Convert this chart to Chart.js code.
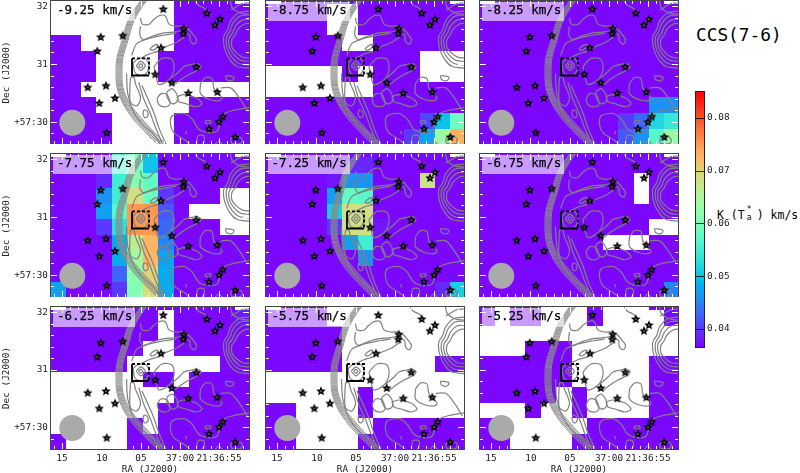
<!DOCTYPE html>
<html>
<head>
<meta charset="utf-8">
<script src="https://cdn.jsdelivr.net/npm/chart.js@4"></script>
<style>
  body { margin: 0; background: #fff; width: 800px; height: 473px; overflow: hidden; position: relative; font-family: "DejaVu Sans Mono", monospace; }
  canvas { position: absolute; }
  .vel { position: absolute; width: 82px; height: 19px; background: rgba(255,255,255,0.6); font-size: 12.5px; line-height: 16px; color: #000; white-space: pre; text-indent: 4px; -webkit-text-stroke: 0.25px #000; }
  #title { position: absolute; left: 696px; top: 24px; font-size: 17.8px; color: #000; }
  #unit { position: absolute; left: 717px; top: 208px; font-size: 11.5px; line-height: 14px; color: #000; white-space: pre; }
  #unit .st { display: inline-block; position: relative; width: 12px; height: 10px; }
  #unit .st i { position: absolute; left: 2px; font-style: normal; font-size: 8px; line-height: 8px; }
</style>
</head>
<body>
<div id="title">CCS(7-6)</div>
<div id="unit">K (T<span class="st"><i style="top:-3px">*</i><i style="top:5px">a</i></span>) km/s</div>
<script>
const V = 0.037, _ = null;

const velocityLabels = ["-9.25 km/s", "-8.75 km/s", "-8.25 km/s", "-7.75 km/s", "-7.25 km/s", "-6.75 km/s", "-6.25 km/s", "-5.75 km/s", "-5.25 km/s"];
const raTickPos = [11, 51, 90, 129, 168];
const raTickLabels = ["15", "10", "05", "37:00", "21:36:55"];
const decTickPos = [5.7, 62.7, 120.7];
const decTickLabels = ["32", "31", "+57:30"];
const barTicks = [0.04, 0.05, 0.06, 0.07, 0.08];

// integrated intensity per map cell, rows from north to south
const cellsM925 = [
  [_,_,_,_,_,_,_,_,V,V,V,V,_],
  [_,_,_,_,_,_,_,_,V,V,V,V,V],
  [_,_,_,_,_,_,_,_,V,V,V,V,V],
  [V,V,_,_,_,_,_,_,V,V,V,V,V],
  [V,V,V,_,_,_,_,V,V,V,V,V,V],
  [V,V,V,_,_,_,_,V,V,V,V,V,V],
  [V,V,_,_,_,_,_,_,_,_,_,_,_],
  [V,V,V,_,_,_,_,_,_,V,V,V,V],
  [V,V,V,V,_,_,_,_,V,V,V,V,V],
  [V,V,V,V,_,_,_,_,V,V,V,V,V],
];
const cellsM875 = [
  [_,V,V,V,V,V,V,V,V,V,V,V,_],
  [V,V,V,V,_,_,V,V,V,V,V,V,V],
  [V,V,V,V,_,_,V,V,V,V,V,V,V],
  [V,V,V,V,V,_,_,V,V,V,V,V,V],
  [V,V,V,V,V,V,V,V,V,V,_,_,_],
  [_,_,_,_,_,V,_,V,V,V,_,_,_],
  [_,_,_,_,_,_,_,V,V,V,V,V,V],
  [V,V,V,V,V,V,V,V,V,V,V,V,V],
  [V,V,V,V,V,V,V,V,V,V,0.041,0.05,0.059],
  [V,V,V,V,V,V,V,V,V,0.04,0.047,0.0635,0.073],
];
const cellsM825 = [
  [_,V,V,V,V,V,V,V,V,V,V,V,_],
  [V,V,V,V,V,V,V,V,V,V,V,V,V],
  [V,V,V,V,V,V,V,V,V,V,V,V,V],
  [V,V,V,V,V,V,V,V,V,V,V,V,V],
  [V,V,V,V,V,V,V,V,V,V,V,V,V],
  [V,V,V,V,V,V,V,V,V,V,V,V,V],
  [V,V,V,V,V,V,V,V,V,V,V,V,V],
  [V,V,V,V,V,V,V,V,V,V,V,0.046,0.046],
  [V,V,V,V,V,V,V,V,V,0.04,0.043,0.052,0.054],
  [V,V,V,V,V,V,V,V,V,0.042,0.046,0.057,0.063],
];
const cellsM775 = [
  [_,V,V,V,0.055,0.06,0.05,V,V,V,V,V,_],
  [V,V,V,V,0.055,0.06,0.05,V,V,V,V,V,V],
  [V,V,V,0.039,0.055,0.061,0.058,V,V,V,V,V,V],
  [V,V,V,0.046,0.055,0.0685,0.059,0.04,V,V,V,_,_],
  [V,V,V,0.047,0.057,0.075,0.075,0.042,V,_,_,_,_],
  [V,V,V,0.04,0.053,0.075,0.075,0.043,V,V,V,_,_],
  [V,V,V,V,0.048,0.0668,0.0728,0.045,V,V,V,V,V],
  [V,V,V,V,0.048,0.064,0.0725,0.047,V,V,V,V,V],
  [V,V,V,V,0.043,0.062,0.0699,0.048,V,V,V,V,V],
  [0.047,V,V,V,0.04,0.061,0.0692,0.048,V,V,V,V,V],
];
const cellsM725 = [
  [_,V,V,V,V,V,V,V,V,V,V,V,_],
  [V,V,V,V,V,0.039,0.039,V,V,V,V,V,V],
  [V,V,V,V,0.038,0.046,0.046,V,V,V,0.068,V,V],
  [V,V,V,V,0.047,0.058,0.057,V,V,V,V,V,V],
  [V,V,V,V,0.051,0.0685,0.0685,V,V,V,V,V,V],
  [V,V,V,V,0.04,0.0685,0.0685,0.038,V,V,V,V,V],
  [V,V,V,V,V,0.047,0.055,V,V,V,V,V,V],
  [V,V,V,V,V,V,0.046,V,V,V,V,V,V],
  [V,V,V,V,V,V,V,V,V,V,V,V,V],
  [V,V,V,V,V,V,V,V,V,V,V,0.039,0.051],
];
const cellsM675 = [
  [_,V,V,V,V,V,V,V,V,V,V,V,_],
  [V,V,V,V,V,V,V,V,V,V,V,V,V],
  [V,V,V,V,V,V,V,V,V,V,_,V,V],
  [V,V,V,V,V,V,V,V,V,V,_,V,V],
  [V,V,V,V,V,V,V,V,V,V,V,V,V],
  [V,V,V,V,V,V,V,V,V,V,V,_,_],
  [V,V,V,V,V,V,V,V,_,_,_,V,V],
  [V,V,V,V,V,V,V,V,V,V,V,V,V],
  [V,V,V,V,V,V,V,V,V,V,V,V,V],
  [V,V,V,V,V,V,V,V,V,V,V,V,0.045],
];
const cellsM625 = [
  [_,V,V,V,V,V,V,V,V,V,V,V,_],
  [V,V,V,V,V,V,V,_,V,V,V,V,0.038],
  [V,V,V,V,V,V,V,_,V,V,V,V,V],
  [V,V,V,V,V,V,_,_,V,V,V,V,V],
  [V,V,V,V,V,_,_,_,_,_,_,V,V],
  [_,_,_,_,_,_,V,V,_,V,V,V,V],
  [_,_,_,_,_,_,_,_,V,V,V,V,V],
  [_,_,_,_,_,_,_,V,V,V,V,V,V],
  [_,_,_,_,_,V,_,V,V,V,V,V,V],
  [V,_,_,_,_,V,V,V,V,V,V,V,V],
];
const cellsM575 = [
  [_,V,V,V,_,_,_,_,_,_,_,_,_],
  [V,V,V,V,_,_,_,_,_,_,_,_,_],
  [V,V,V,V,V,_,_,_,_,_,_,_,_],
  [V,V,V,V,V,_,_,_,_,_,_,_,_],
  [V,V,V,V,V,_,_,_,_,_,_,V,V],
  [_,_,_,_,_,_,_,_,_,_,_,_,_],
  [_,_,_,_,_,_,V,_,_,_,_,_,_],
  [V,V,_,_,_,_,V,_,_,_,_,_,_],
  [V,V,_,_,_,_,_,V,V,V,V,V,V],
  [V,V,_,_,_,_,V,V,V,V,V,V,V],
];
const cellsM525 = [
  [V,_,V,V,_,_,_,V,_,_,_,V,V],
  [V,_,V,V,_,_,_,V,_,_,_,_,V],
  [_,_,_,_,_,_,_,_,_,_,_,_,_],
  [_,_,_,V,V,V,_,_,_,_,_,_,_],
  [V,V,V,V,V,V,_,_,_,_,_,V,V],
  [V,V,V,V,V,V,_,_,_,_,_,V,V],
  [V,V,V,V,V,_,V,_,_,_,_,V,V],
  [_,_,_,V,_,_,V,_,_,_,_,V,V],
  [V,V,_,_,_,_,_,V,V,V,V,V,V],
  [V,V,_,_,_,_,V,V,V,V,V,V,V],
];
const panelCells = [cellsM925, cellsM875, cellsM825, cellsM775, cellsM725, cellsM675, cellsM625, cellsM575, cellsM525];

// map offsets (about 1 arcsec per unit) from the panel's north-east corner
const starPoints = [
  [112.3,8],[155.7,12],[169,18],[164,23.7],[132.7,27.3],[132.3,32.3],[49.7,35.7],[71.7,34.3],
  [110,46.3],[46.3,49.7],[145.3,65.3],[104.3,72.7],[120.7,81],[36.7,85.7],[55,84],[137.3,91.3],
  [166.3,90.3],[64,96.3],[48.3,101.3],[171.7,114.7],[168,120],[158,126.7],[55.7,130.7],[184.3,135],
];
const beamCentre = [[21.3,121]];
const boxSolid = [[81,57],[81,74],[98,74]];
const boxDashed = [[81,57],[98,57],[98,74]];

const frontContours = [
  [[91,-2],[83,9],[76,22],[71,39],[66,56],[65,69],[66,86],[72,102],[82,117],[95,131],[108,144]],
  [[92,-2],[84,9],[77,22],[72,39],[67,56],[66,69],[67,86],[73,102],[83.5,117],[96.5,131],[109.5,144]],
  [[93,-2],[85,9],[78,22],[73,39],[68,56],[67,69],[68,86],[74,102],[85,117],[98,131],[111,144]],
  [[94,-2],[86,9],[79,22],[74,39],[69,56],[68,69],[69,86],[75.2,102],[86.5,117],[99.5,131],[112.5,144]],
  [[95,-2],[87,9],[80,22],[75,39],[70,56],[69,69],[70,86],[76.4,102],[88,117],[101,131],[114,144]],
  [[96,-2],[88,9],[81,22],[76,39],[71,56],[70,69],[71,86],[77.6,102],[89.5,117],[102.5,131],[115.5,144]],
  [[97,-2],[89,9],[82,22],[77,39],[72,56],[71,69],[72,86],[78.8,102],[91,117],[104,131],[117,144]],
];
const ridgeContours = [
  [[89.5,16.7],[91,22.7],[97.8,23.3],[102.8,18.3],[108.8,14.3],[114.5,15],[117.8,22.7],[124.5,25],[132.8,25],[137.8,28.3],[142.2,33.3],[145.5,38.3],[143.5,42.7],[139.5,40],[138.5,33.3],[134.5,31.7]],
  [[89.5,25],[88.8,33.3],[92.2,38.3],[101.2,35],[112.8,31.7],[124.5,30.7],[131.2,29.3]],
  [[134.5,35],[126.2,40.7],[116.2,45],[106.8,50],[97.8,52.7],[90.2,56.7]],
  [[98.8,47.7],[102.8,44.3],[106.8,43.3],[105.5,46.7],[101.2,49],[98.8,47.7]],
  [[80.7,54],[85.7,42.3],[97.3,37.3],[112,34],[125,32]],
  [[144.5,0],[147,4],[153,7],[159,12]],
  [[179.5,0],[181.5,7],[189.5,12],[198,13]],
  [[180,9],[190,3],[198,2]],
];
const eastContours = [
  [[199,10],[187.8,11.7],[179.5,20],[176.8,28.3],[172.8,35],[173.5,46.7],[178.8,58.3],[186.2,65],[199,66.7]],
  [[199,14],[189,15],[182,22],[179,30],[175.5,36],[176,46],[181,56],[188,62],[199,63.5]],
  [[199,18],[191,19],[184.5,25],[181.5,32],[178,37],[178.5,46],[183.5,54],[190,59],[199,60]],
  [[199,22],[193,23],[187,28],[184,34],[181,38],[181,46],[186,52],[192,56],[199,56.5]],
  [[169.7,86.3],[179.7,86.3],[188,95.7],[196.3,109]],
];
const blobContours = [
  [[103,65],[111,57],[121,58],[123,68],[118,78],[108,83],[105,75],[103,65]],
  [[120,77],[128,70],[133,65],[141,63],[146,62],[150,65],[146,69],[138,73],[130,78],[123,83],[120,77]],
  [[116,90],[121,87],[126,93],[126,100],[121,102],[116,95],[116,90]],
  [[106,97],[110,92],[116,93],[119,102],[115,105],[108,103],[106,97]],
  [[126,95],[133,93],[145,96],[151,102],[145,105],[135,102],[128,100],[126,95]],
  [[149.5,82],[154.5,76],[161,77],[163,87],[171,96],[168,99],[158,97.5],[149.5,92],[149.5,82]],
  [[174.5,74],[183,75.7],[181,79],[175.5,78],[174.5,74]],
  [[93,108],[96,109],[97,114],[94,116],[92,112],[93,108]],
];
const southContours = [
  [[141.2,144],[132.8,137.3],[122.8,130.7],[119.5,122.3],[121.2,114],[132.8,111.7],[141.2,117.3],[147.8,127.3],[157.8,130.7],[166.2,129],[169.5,119],[172.8,112.3],[181.2,109],[199,105.7]],
  [[154.5,119],[159.5,119],[159.5,121.3],[154.5,121.3],[154.5,119]],
  [[135.2,129],[135.2,132.3]],
  [[145.5,144],[146.8,134],[152.8,134],[152.8,140.7],[147,144]],
  [[162.8,144],[167.8,139],[172.8,144]],
  [[179.5,137.3],[184.5,133],[191.2,137.3],[189.5,141.7],[181.2,141.7],[179.5,137.3]],
];
const sourceContours = [
  [[87.7,64.3],[89.7,62.3],[91.7,64.3],[89.7,66.3],[87.7,64.3]],
  [[85.2,64.3],[89.7,59.8],[94.2,64.3],[89.7,68.8],[85.2,64.3]],
  [[82,62],[86,58],[94,57],[98,63],[96,71],[90,74],[84,71],[82,62]],
  [[79.5,75.7],[78.8,89],[79.5,100.7],[86,104],[89.5,95.7],[84.5,82.3],[82.8,75.7],[79.5,75.7]],
  [[91,84],[97.8,99],[102.8,110.7],[107.8,125.7],[112.8,137.3],[116,144]],
  [[87.8,80.7],[92.8,97.3],[99.5,112.3],[104.5,125.7],[111,140.7]],
  [[75.5,72],[76.8,92.3],[82.8,110.7],[92.8,124],[101.2,130.7],[109.5,142]],
];
const lineContours = [...ridgeContours, ...eastContours, ...blobContours, ...southContours, ...sourceContours];

const BAR_MIN = 0.0366, BAR_MAX = 0.0849;
const CELL_X0 = -0.9, CELL_Y0 = -12.35, CELL_SIZE = 15.45;

function rainbow(v) {
  const t = Math.min(1, Math.max(0, (v - BAR_MIN) / (BAR_MAX - BAR_MIN)));
  const r = Math.min(1, Math.abs(2 * t - 0.5));
  const g = Math.sin(Math.PI * t);
  const b = Math.cos(Math.PI * t / 2);
  return `rgb(${Math.round(r * 255)},${Math.round(g * 255)},${Math.round(b * 255)})`;
}

function toXY(list) {
  return list.map((p) => ({ x: p[0], y: p[1] }));
}

// tick labels near the edges must not push the plot area in
function fixScale(scale, w, h) {
  if (w !== null) scale.width = w;
  if (h !== null) scale.height = h;
  scale.paddingTop = 0;
  scale.paddingBottom = 0;
  scale.paddingLeft = 0;
  scale.paddingRight = 0;
}

function starImage() {
  const c = document.createElement("canvas");
  c.width = 12;
  c.height = 12;
  const g = c.getContext("2d");
  g.beginPath();
  for (let i = 0; i < 10; i++) {
    const r = i % 2 ? 2.3 : 5;
    const a = -Math.PI / 2 + (i * Math.PI) / 5;
    g.lineTo(6 + r * Math.cos(a), 6.3 + r * Math.sin(a));
  }
  g.closePath();
  g.fillStyle = "#000";
  g.fill();
  g.fillStyle = "#777";
  g.fillRect(5.2, 5.5, 1.6, 1.6);
  return c;
}
const star = starImage();

const cellPlugin = {
  id: "cells",
  beforeDatasetsDraw(chart, args, opts) {
    const { ctx, chartArea: a, scales: { x, y } } = chart;
    ctx.save();
    ctx.beginPath();
    ctx.rect(a.left, a.top, a.right - a.left, a.bottom - a.top);
    ctx.clip();
    opts.rows.forEach((row, r) => {
      row.forEach((v, c) => {
        if (v === null) return;
        const x0 = Math.round(x.getPixelForValue(CELL_X0 + c * CELL_SIZE));
        const x1 = Math.round(x.getPixelForValue(CELL_X0 + (c + 1) * CELL_SIZE));
        const y0 = Math.round(y.getPixelForValue(CELL_Y0 + r * CELL_SIZE));
        const y1 = Math.round(y.getPixelForValue(CELL_Y0 + (r + 1) * CELL_SIZE));
        ctx.fillStyle = rainbow(v);
        ctx.fillRect(x0, y0, x1 - x0, y1 - y0);
      });
    });
    ctx.restore();
  },
};

// white inward ticks and the dark frame
const framePlugin = {
  id: "frame",
  afterDatasetsDraw(chart) {
    const { ctx, chartArea: a, scales: { x, y } } = chart;
    ctx.save();
    ctx.strokeStyle = "#fff";
    ctx.lineWidth = 1;
    ctx.beginPath();
    for (let k = -1; k < 26; k++) {
      const v = 11 + k * 7.86;
      if (v < 0 || v > 198) continue;
      const px = Math.round(x.getPixelForValue(v)) + 0.5;
      const len = k % 5 === 0 ? 6 : 3;
      ctx.moveTo(px, a.bottom);
      ctx.lineTo(px, a.bottom - len);
      ctx.moveTo(px, a.top);
      ctx.lineTo(px, a.top + len);
    }
    for (let k = 0; k < 13; k++) {
      const v = 5 + k * 11.5;
      const py = Math.round(y.getPixelForValue(v)) + 0.5;
      const len = k % 5 === 0 ? 6 : 3;
      ctx.moveTo(a.left, py);
      ctx.lineTo(a.left + len, py);
      ctx.moveTo(a.right, py);
      ctx.lineTo(a.right - len, py);
    }
    ctx.stroke();
    ctx.strokeStyle = "#444";
    ctx.strokeRect(a.left - 0.5, a.top - 0.5, a.right - a.left + 1, a.bottom - a.top + 1);
    ctx.restore();
  },
};

function panelDatasets() {
  const sets = [
    { data: toXY(boxSolid), borderColor: "#000", borderWidth: 1.8, pointRadius: 0, showLine: true },
    { data: toXY(boxDashed), borderColor: "#000", borderWidth: 1.8, borderDash: [3, 2], pointRadius: 0, showLine: true },
    { data: toXY(starPoints), pointStyle: star, showLine: false },
    { data: toXY(beamCentre), pointStyle: "circle", pointRadius: 13, backgroundColor: "#aaaaaa", borderWidth: 0, showLine: false },
  ];
  lineContours.forEach((line) => {
    sets.push({ data: toXY(line), borderColor: "#808080", borderWidth: 1.2, pointRadius: 0, showLine: true, tension: 0.3 });
  });
  frontContours.forEach((line) => {
    sets.push({ data: toXY(line), borderColor: "#8a8a8a", borderWidth: 0.9, pointRadius: 0, showLine: true, tension: 0.3 });
  });
  return sets;
}

const colLefts = [51, 265.5, 480];
const rowTops = [1, 154, 307];
const monoFont = { family: "'DejaVu Sans Mono'", size: 9.4 };

function makePanel(i) {
  const col = i % 3;
  const row = Math.floor(i / 3);
  const isLeft = col === 0;
  const isBottom = row === 2;
  const canvas = document.createElement("canvas");
  canvas.width = 250;
  canvas.height = isBottom ? 169 : 144;
  canvas.style.left = colLefts[col] - 50 + "px";
  canvas.style.top = rowTops[row] - 1 + "px";
  document.body.appendChild(canvas);

  new Chart(canvas, {
    type: "scatter",
    data: { datasets: panelDatasets() },
    plugins: [cellPlugin, framePlugin],
    options: {
      responsive: false,
      animation: false,
      layout: { autoPadding: false, padding: { top: 1, right: 2, left: 0, bottom: 0 } },
      plugins: { legend: { display: false }, tooltip: { enabled: false }, cells: { rows: panelCells[i] } },
      scales: {
        x: {
          type: "linear",
          min: 0,
          max: 198,
          grid: { display: false, drawTicks: false },
          border: { display: false },
          afterBuildTicks(scale) {
            scale.ticks = raTickPos.map((v) => ({ value: v }));
          },
          afterFit(scale) {
            fixScale(scale, null, isBottom ? 26 : 0);
          },
          ticks: {
            display: isBottom,
            autoSkip: false,
            maxRotation: 0,
            padding: 4,
            color: "#222",
            font: monoFont,
            callback: (v, idx) => raTickLabels[idx],
          },
          title: { display: isBottom, text: "RA (J2000)", color: "#222", font: monoFont, padding: 0 },
        },
        y: {
          type: "linear",
          reverse: true,
          min: 0,
          max: 142,
          grid: { display: false, drawTicks: false },
          border: { display: false },
          afterBuildTicks(scale) {
            scale.ticks = decTickPos.map((v) => ({ value: v }));
          },
          afterFit(scale) {
            fixScale(scale, 50, null);
          },
          ticks: {
            display: isLeft,
            autoSkip: false,
            padding: 3,
            color: "#222",
            font: monoFont,
            callback: (v, idx) => decTickLabels[idx],
          },
          title: { display: isLeft, text: "Dec (J2000)", color: "#222", font: monoFont, padding: 0 },
        },
      },
    },
  });

  const label = document.createElement("div");
  label.className = "vel";
  label.textContent = velocityLabels[i];
  label.style.left = colLefts[col] + 2 + "px";
  label.style.top = rowTops[row] + 1 + "px";
  document.body.appendChild(label);
}

for (let i = 0; i < 9; i++) makePanel(i);

// colour bar
const barCanvas = document.createElement("canvas");
barCanvas.width = 40;
barCanvas.height = 261;
barCanvas.style.left = "695px";
barCanvas.style.top = "89px";
document.body.appendChild(barCanvas);

function barGradient(context) {
  const area = context.chart.chartArea;
  if (!area) return "#7f00ff";
  const g = context.chart.ctx.createLinearGradient(0, area.bottom, 0, area.top);
  for (let s = 0; s <= 20; s++) {
    g.addColorStop(s / 20, rainbow(BAR_MIN + ((BAR_MAX - BAR_MIN) * s) / 20));
  }
  return g;
}

new Chart(barCanvas, {
  type: "bar",
  data: {
    labels: ["K"],
    datasets: [{ data: [[BAR_MIN, BAR_MAX]], backgroundColor: barGradient, barPercentage: 1, categoryPercentage: 1 }],
  },
  plugins: [{
    id: "barFrame",
    afterDatasetsDraw(chart) {
      const { ctx, chartArea: a, scales: { y } } = chart;
      ctx.save();
      ctx.lineWidth = 1;
      ctx.strokeStyle = "rgba(0,0,0,0.75)";
      barTicks.forEach((t) => {
        const py = Math.round(y.getPixelForValue(t)) + 0.5;
        ctx.beginPath();
        ctx.moveTo(a.left, py);
        ctx.lineTo(a.right, py);
        ctx.stroke();
      });
      ctx.strokeStyle = "#222";
      ctx.strokeRect(a.left + 0.5, a.top - 0.5, a.right - a.left - 1, a.bottom - a.top + 1);
      ctx.restore();
    },
  }],
  options: {
    responsive: false,
    animation: false,
    layout: { autoPadding: false, padding: { top: 3, bottom: 3, left: 0, right: 0 } },
    plugins: { legend: { display: false }, tooltip: { enabled: false } },
    scales: {
      x: { display: false },
      y: {
        position: "right",
        min: BAR_MIN,
        max: BAR_MAX,
        grid: { display: false, drawTicks: false },
        border: { display: false },
        afterBuildTicks(scale) {
          scale.ticks = barTicks.map((v) => ({ value: v }));
        },
        afterFit(scale) {
          fixScale(scale, 30, null);
        },
        ticks: { padding: 2, color: "#222", font: monoFont, callback: (v) => v.toFixed(2) },
      },
    },
  },
});
</script>
</body>
</html>
